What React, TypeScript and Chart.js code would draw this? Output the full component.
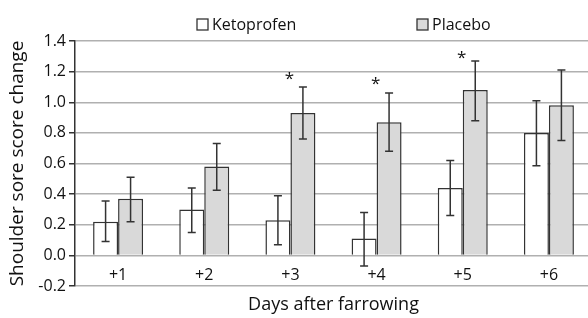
import React, { useEffect, useRef } from 'react';
import { Chart, registerables } from 'chart.js';

Chart.register(...registerables);

const categories = ['+1', '+2', '+3', '+4', '+5', '+6'];
const ketoprofen = [0.22, 0.30, 0.23, 0.11, 0.44, 0.80];
const ketoprofenLow = [0.09, 0.15, 0.07, -0.07, 0.26, 0.585];
const ketoprofenHigh = [0.355, 0.44, 0.39, 0.28, 0.62, 1.01];
const placebo = [0.37, 0.58, 0.93, 0.87, 1.08, 0.98];
const placeboLow = [0.22, 0.425, 0.76, 0.68, 0.88, 0.75];
const placeboHigh = [0.51, 0.73, 1.10, 1.06, 1.27, 1.21];
const significance = [null, null, 1.17, 1.14, 1.31, null];
const yTicks = [-0.2, 0.0, 0.2, 0.4, 0.6, 0.8, 1.0, 1.2, 1.4];

const FONT = "'Open Sans', sans-serif";
const TEXT = '#111111';
const INK = '#333333';

export default function App() {
  const ref = useRef<HTMLCanvasElement>(null);

  useEffect(() => {
    const lows = [ketoprofenLow, placeboLow];
    const highs = [ketoprofenHigh, placeboHigh];

    const errorBars = {
      id: 'errorBars',
      afterDatasetsDraw(chart: any) {
        const ctx = chart.ctx;
        const y = chart.scales.y;
        ctx.save();
        ctx.strokeStyle = INK;
        ctx.lineWidth = 1.5;
        chart.data.datasets.forEach((_: any, di: number) => {
          const meta = chart.getDatasetMeta(di);
          meta.data.forEach((bar: any, i: number) => {
            const x = bar.x;
            const yl = y.getPixelForValue(lows[di][i]);
            const yh = y.getPixelForValue(highs[di][i]);
            ctx.beginPath();
            ctx.moveTo(x, yl);
            ctx.lineTo(x, yh);
            ctx.moveTo(x - 4, yl);
            ctx.lineTo(x + 4, yl);
            ctx.moveTo(x - 4, yh);
            ctx.lineTo(x + 4, yh);
            ctx.stroke();
          });
        });
        const xs = chart.scales.x;
        ctx.fillStyle = TEXT;
        ctx.font = `17px ${FONT}`;
        ctx.textAlign = 'center';
        ctx.textBaseline = 'alphabetic';
        const m = ctx.measureText('*');
        const off = (m.actualBoundingBoxAscent - m.actualBoundingBoxDescent) / 2;
        significance.forEach((v, i) => {
          if (v === null) return;
          const cx = xs.getPixelForValue(i) - 1;
          const cy = y.getPixelForValue(v);
          ctx.fillText('*', cx, cy + off);
        });
        ctx.restore();
      },
    };

    const customLegend = {
      id: 'customLegend',
      afterDraw(chart: any) {
        const ctx = chart.ctx;
        const starts = [197, 417];
        ctx.save();
        ctx.font = `16px ${FONT}`;
        ctx.textBaseline = 'middle';
        ctx.textAlign = 'left';
        chart.data.datasets.forEach((ds: any, i: number) => {
          const x = starts[i];
          ctx.fillStyle = ds.backgroundColor;
          ctx.fillRect(x, 19, 11, 11);
          ctx.strokeStyle = ds.borderColor;
          ctx.lineWidth = 1.3;
          ctx.strokeRect(x, 19, 11, 11);
          ctx.fillStyle = TEXT;
          ctx.fillText(ds.label, x + 15, 25);
        });
        ctx.restore();
      },
    };

    const chart = new Chart(ref.current as HTMLCanvasElement, {
      type: 'bar',
      data: {
        labels: categories,
        datasets: [
          {
            label: 'Ketoprofen',
            data: ketoprofen,
            backgroundColor: '#ffffff',
            borderColor: INK,
            borderWidth: 1.5,
          },
          {
            label: 'Placebo',
            data: placebo,
            backgroundColor: '#d9d9d9',
            borderColor: INK,
            borderWidth: 1.5,
          },
        ],
      },
      options: {
        responsive: false,
        animation: false,
        devicePixelRatio: 1,
        layout: { padding: { top: 41, left: 0, right: 0, bottom: 0 } },
        datasets: { bar: { categoryPercentage: 0.58, barPercentage: 1 } },
        plugins: { legend: { display: false }, tooltip: { enabled: false } },
        scales: {
          x: {
            type: 'category',
            position: { y: 0 },
            grid: { display: false, drawTicks: false },
            border: { display: false },
            ticks: { font: { family: FONT, size: 16 }, color: TEXT, padding: 10 },
          },
          x2: {
            type: 'category',
            position: 'bottom',
            grid: { display: false, drawTicks: false },
            border: { display: false },
            ticks: { display: false },
            title: {
              display: true,
              text: 'Days after farrowing',
              font: { family: FONT, size: 18 },
              color: TEXT,
              padding: { top: 8.4, bottom: 2 },
            },
          },
          y: {
            min: -0.2,
            max: 1.4,
            afterBuildTicks(scale: any) {
              scale.ticks = yTicks.map((v) => ({ value: v }));
            },
            afterFit(scale: any) {
              scale.width = 75;
            },
            ticks: {
              callback: (v: any) => Number(v).toFixed(1),
              font: { family: FONT, size: 16 },
              color: TEXT,
              padding: 3,
            },
            grid: { color: '#b0b0b0', lineWidth: 1.5, tickLength: 6, tickColor: INK, tickWidth: 1.5 },
            border: { color: INK, width: 1.5 },
            title: {
              display: true,
              text: 'Shoulder sore score change',
              font: { family: FONT, size: 19 },
              color: TEXT,
              padding: { top: 6, bottom: 0 },
            },
          },
        },
      },
      plugins: [errorBars, customLegend],
    } as any);

    return () => chart.destroy();
  }, []);

  return (
    <div
      style={{
        position: 'absolute',
        left: 0,
        top: 0,
        width: 588,
        height: 318,
        overflow: 'hidden',
        background: '#ffffff',
      }}
    >
      <canvas ref={ref} width={592} height={318} style={{ display: 'block' }} />
    </div>
  );
}
